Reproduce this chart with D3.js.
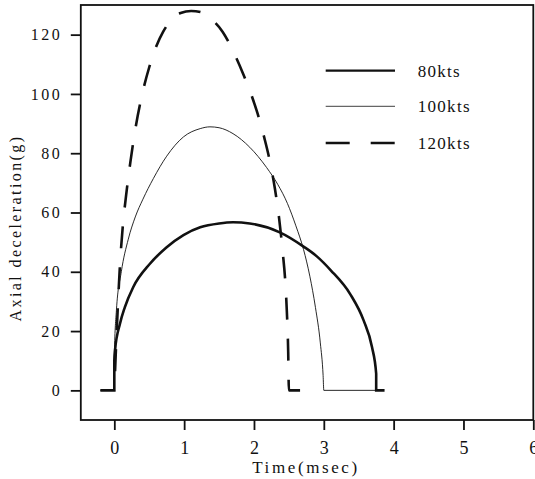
<!DOCTYPE html>
<html>
<head>
<meta charset="utf-8">
<script src="https://cdn.jsdelivr.net/npm/d3@7"></script>
<style>
  html, body { margin: 0; padding: 0; background: #fff; }
  svg { display: block; }
  text { font-family: "Liberation Serif", "Times New Roman", serif; fill: #111; }
</style>
</head>
<body>
<svg id="chart" width="535" height="479"></svg>
<script>
// ---- data ----
const seriesNames = ["80kts", "100kts", "120kts"];

const time80  = [-0.2, 0, 0, 0.01, 0.08, 0.15, 0.27, 0.51, 0.75, 0.99, 1.23, 1.5, 1.7, 1.94, 2.37, 2.71, 2.9, 3.1, 3.38, 3.57, 3.69, 3.75, 3.75, 3.87];
const accel80 = [0, 0, 10, 13.5, 22.4, 28, 34.8, 42.7, 48.3, 52.4, 55, 56.3, 56.7, 56.3, 53.3, 48.5, 45.2, 40.5, 32.4, 23.6, 14.6, 5.6, 0, 0];

const time100  = [-0.2, 0, 0, 0.03, 0.1, 0.2, 0.3, 0.41, 0.56, 0.75, 0.99, 1.23, 1.37, 1.5, 1.7, 1.94, 2.18, 2.34, 2.48, 2.6, 2.71, 2.8, 2.88, 2.95, 2.99, 3.0, 3.75];
const accel100 = [0, 0, 12, 27, 40, 51, 58.5, 64.5, 71.5, 79, 85.5, 88.3, 88.9, 88.6, 86.6, 82, 75.2, 69.5, 63, 55.5, 47.5, 38.5, 28, 16, 5, 0, 0];

const time120  = [0, 0.02, 0.05, 0.08, 0.12, 0.17, 0.23, 0.3, 0.4, 0.5, 0.6, 0.7, 0.82, 0.95, 1.1, 1.25, 1.4, 1.55, 1.7, 1.85, 1.95, 2.05, 2.15, 2.23, 2.3, 2.36, 2.41, 2.45, 2.47, 2.49, 2.5, 2.66];
const accel120 = [0, 12, 28, 42, 55, 66, 77, 88, 100, 109, 116, 121, 125, 127.3, 128, 127.5, 125, 121, 114.5, 106.5, 100.5, 93.5, 85, 77, 68, 58, 47, 36, 27, 13, 0, 0];

const xTicks = [0, 1, 2, 3, 4, 5, 6];
const yTicks = [0, 20, 40, 60, 80, 100, 120];
const xTitle = "Time(msec)";
const yTitle = "Axial deceleration(g)";

// ---- layout ----
const svg = d3.select("#chart");
const mLeft = 80.8, mRight = 533.3, mTop = 5, mBottom = 420;

const x = d3.scaleLinear().domain([-0.48, 6]).range([mLeft, mRight]);
const y = d3.scaleLinear().domain([-10, 130]).range([mBottom, mTop]);

// frame
svg.append("rect")
  .attr("x", mLeft).attr("y", mTop)
  .attr("width", mRight - mLeft).attr("height", mBottom - mTop)
  .attr("fill", "none").attr("stroke", "#111").attr("stroke-width", 1.8);

// axes
const yAxis = d3.axisLeft(y).tickValues(yTicks).tickSize(10).tickPadding(11).tickFormat(d3.format("d"));
const gy = svg.append("g").attr("transform", `translate(${mLeft},0)`).call(yAxis);
gy.select(".domain").remove();
gy.selectAll(".tick line").attr("stroke", "#111").attr("stroke-width", 1.8);
gy.selectAll(".tick text")
  .attr("font-size", 16).attr("letter-spacing", "2.5px")
  .attr("dx", "2.5px")
  .style("font-family", '"Liberation Serif", serif').attr("fill", "#111");

const xAxis = d3.axisBottom(x).tickValues(xTicks).tickSize(10).tickPadding(11).tickFormat(d3.format("d"));
const gx = svg.append("g").attr("transform", `translate(0,${mBottom})`).call(xAxis);
gx.select(".domain").remove();
gx.selectAll(".tick line").attr("stroke", "#111").attr("stroke-width", 1.8);
gx.selectAll(".tick text")
  .attr("font-size", 18)
  .style("font-family", '"Liberation Serif", serif').attr("fill", "#111");

// titles
svg.append("text")
  .attr("x", 306).attr("y", 473)
  .attr("text-anchor", "middle")
  .attr("font-size", 17).attr("letter-spacing", "2.6px")
  .text(xTitle);

svg.append("text")
  .attr("transform", "translate(20.7,228) rotate(-90)")
  .attr("text-anchor", "middle")
  .attr("font-size", 16).attr("letter-spacing", "2.4px")
  .text(yTitle);

// lines
const line = d3.line().x(d => x(d[0])).y(d => y(d[1])).curve(d3.curveMonotoneX);
const zip = (a, b) => a.map((v, i) => [v, b[i]]);

const styles = [
  { w: 2.6, dash: null },
  { w: 0.9, dash: null },
  { w: 2.6, dash: [22, 19] }
];
const seriesData = [zip(time80, accel80), zip(time100, accel100), zip(time120, accel120)];

seriesData.forEach((data, i) => {
  const p = svg.append("path")
    .datum(data)
    .attr("d", line)
    .attr("fill", "none")
    .attr("stroke", "#111")
    .attr("stroke-width", styles[i].w);
  if (styles[i].dash) {
    const [on, off] = styles[i].dash;
    const period = on + off;
    const L = p.node().getTotalLength();
    // anchor the dash pattern so a dash ends exactly at the path's end
    const offset = ((on - L) % period + period) % period;
    p.attr("stroke-dasharray", `${on},${off}`).attr("stroke-dashoffset", offset);
  }
});

// legend
const legendY = [70.7, 106.3, 143];
seriesNames.forEach((name, i) => {
  svg.append("line")
    .attr("x1", 325.7).attr("x2", 395)
    .attr("y1", legendY[i]).attr("y2", legendY[i])
    .attr("stroke", "#111")
    .attr("stroke-width", styles[i].w * 0.9)
    .attr("stroke-dasharray", styles[i].dash ? "24,21" : null);
  svg.append("text")
    .attr("x", 417.7).attr("y", legendY[i] + 6)
    .attr("font-size", 17).attr("letter-spacing", "1.3px")
    .text(name);
});
</script>
</body>
</html>
